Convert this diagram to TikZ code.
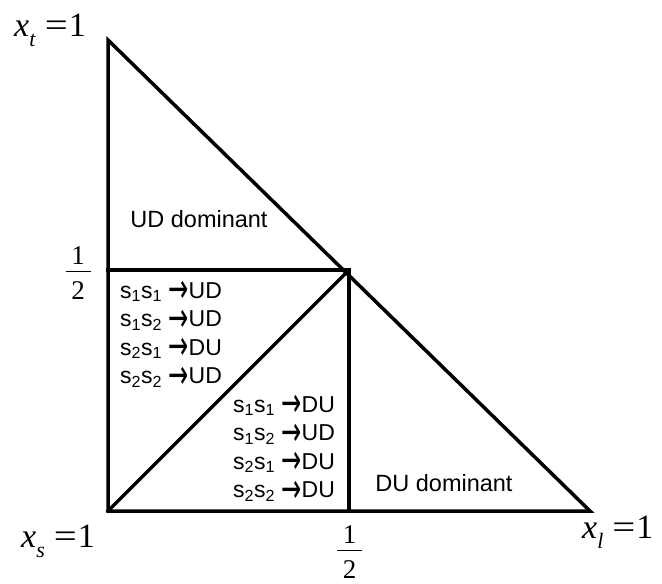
\documentclass[tikz,border=0pt]{standalone}
\usepackage{fontspec}
\setmainfont{Liberation Serif}
\newfontfamily\lsans{Liberation Sans}
\newfontfamily\dvsans{DejaVu Sans}
\newcommand{\rarr}{\smash{\raisebox{-0.2em}{\scalebox{1.05}[1.75]{\dvsans\char"2192}}}}
\newcommand{\rl}[3]{s\textsubscript{#1}s\textsubscript{#2} \rarr#3}
\newcommand{\msub}[1]{\raisebox{-10pt}{\fontsize{22}{22}\selectfont\textit{#1}}}
\newcommand{\meq}{\hspace{9pt}\scalebox{1.2}[1]{=}\hspace{1pt}1}
\newcommand{\halffrac}{\vbox{\offinterlineskip\hbox to 25pt{\hss 1\hss}\kern6pt\hrule height 1.4pt\kern9pt\hbox to 25pt{\hss 2\hss}}}
\begin{document}
\begin{tikzpicture}[x=1pt,y=-1pt]
\tikzset{
  edge/.style={line width=3.5pt, line join=miter, line cap=rect},
  lbl/.style={font=\lsans\fontsize{23}{28}\selectfont, inner sep=0pt, anchor=base west},
  dlbl/.style={font=\lsans\fontsize{23.5}{28}\selectfont, inner sep=0pt},
  mlbl/.style={font=\fontsize{34}{36}\selectfont, inner sep=0pt, anchor=base west},
  frac/.style={font=\fontsize{27}{27}\selectfont, inner sep=0pt}
}
\useasboundingbox (0,0) rectangle (662,584);
\coordinate (T) at (108,40);
\coordinate (L) at (108,511);
\coordinate (R) at (590,511);
\coordinate (M) at (349,270);
\coordinate (H) at (108,270);
\coordinate (B) at (349,511);
\draw[edge] (T) -- (L) -- (R) -- cycle;
\draw[edge] (H) -- (M) -- (B);
\draw[edge] (L) -- (M);

\node[dlbl] (ud) at (199,219) {UD dominant};
\node[dlbl] (du) at (444,483) {DU dominant};

\node[lbl] (a1) at (120,298) {\rl{1}{1}{UD}};
\node[lbl] (a2) at (120,326.5) {\rl{1}{2}{UD}};
\node[lbl] (a3) at (120,355) {\rl{2}{1}{DU}};
\node[lbl] (a4) at (120,383.5) {\rl{2}{2}{UD}};

\node[lbl] (b1) at (233,412) {\rl{1}{1}{DU}};
\node[lbl] (b2) at (233,440.5) {\rl{1}{2}{UD}};
\node[lbl] (b3) at (233,469) {\rl{2}{1}{DU}};
\node[lbl] (b4) at (233,497.5) {\rl{2}{2}{DU}};

\node[mlbl] (xt) at (14,36) {\textit{x}\msub{t}\meq};
\node[mlbl] (xs) at (21,547) {\textit{x}\msub{s}\meq};
\node[mlbl] (xl) at (582,538) {\textit{x}\msub{l}\meq};

\node[frac] (hy) at (78,273) {\halffrac};
\node[frac] (hx) at (349.5,552) {\halffrac};
\end{tikzpicture}
\end{document}
